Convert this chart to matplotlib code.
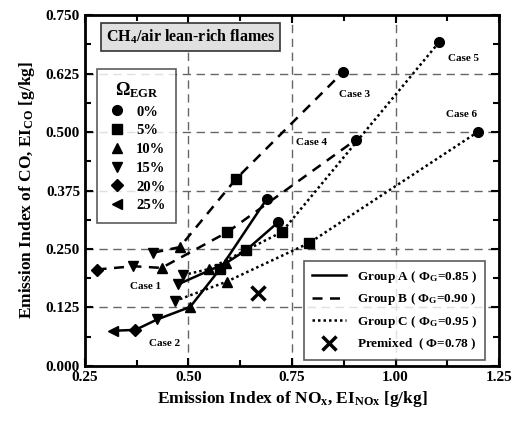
import numpy as np
import matplotlib.pyplot as plt
from matplotlib.lines import Line2D

plt.rcParams['font.family'] = 'Liberation Serif'
plt.rcParams['font.weight'] = 'bold'
plt.rcParams['axes.labelweight'] = 'bold'
plt.rcParams['mathtext.fontset'] = 'custom'
plt.rcParams['mathtext.rm'] = 'Liberation Serif:bold'
plt.rcParams['mathtext.it'] = 'Liberation Serif:bold'
plt.rcParams['mathtext.bf'] = 'Liberation Serif:bold'

# EGR levels and their markers
EGR_LEVELS = [0, 5, 10, 15, 20, 25]
EGR_MARKERS = {0: 'o', 5: 's', 10: '^', 15: 'v', 20: 'D', 25: '<'}

# Group A (solid)
case1_egr = [15, 10, 5, 0]
case1_x = [0.474, 0.591, 0.640, 0.717]
case1_y = [0.174, 0.220, 0.248, 0.3075]
case2_egr = [25, 20, 15, 10, 5, 0]
case2_x = [0.318, 0.372, 0.425, 0.504, 0.576, 0.689]
case2_y = [0.075, 0.077, 0.0995, 0.126, 0.207, 0.357]
# Group B (dashed)
case3_egr = [15, 10, 5, 0]
case3_x = [0.415, 0.479, 0.615, 0.874]
case3_y = [0.242, 0.254, 0.400, 0.629]
case4_egr = [20, 15, 10, 5, 0]
case4_x = [0.278, 0.367, 0.435, 0.594, 0.905]
case4_y = [0.206, 0.213, 0.2095, 0.286, 0.484]
# Group C (dotted)
case5_egr = [15, 10, 5, 0]
case5_x = [0.487, 0.549, 0.725, 1.106]
case5_y = [0.194, 0.207, 0.286, 0.693]
case6_egr = [15, 10, 5, 0]
case6_x = [0.467, 0.592, 0.792, 1.200]
case6_y = [0.1385, 0.180, 0.263, 0.501]

premixed_x = 0.669
premixed_y = 0.156

case_labels = ['Case 1', 'Case 2', 'Case 3', 'Case 4', 'Case 5', 'Case 6']
case_label_x = [0.397, 0.4415, 0.902, 0.798, 1.165, 1.160]
case_label_y = [0.169, 0.048, 0.581, 0.477, 0.658, 0.537]

DASHED = (0, (4, 3))
DOTTED = (0, (1, 1.2))
cases = [
    (case1_egr, case1_x, case1_y, '-'),
    (case2_egr, case2_x, case2_y, '-'),
    (case3_egr, case3_x, case3_y, DASHED),
    (case4_egr, case4_x, case4_y, DASHED),
    (case5_egr, case5_x, case5_y, DOTTED),
    (case6_egr, case6_x, case6_y, DOTTED),
]

fig = plt.figure(figsize=(5.15, 4.21), dpi=100)
ax = fig.add_axes([0.165, 0.131, 0.804, 0.833])

for egr, xs, ys, ls in cases:
    ax.plot(xs, ys, color='black', ls=ls, lw=1.8, zorder=3)
    for e, x, y in zip(egr, xs, ys):
        ax.plot(x, y, marker=EGR_MARKERS[e], color='black', ms=7 if e != 20 else 6,
                ls='none', zorder=4)

ax.plot(premixed_x, premixed_y, marker='x', color='black', ms=10, mew=2.5, ls='none', zorder=4)

for lab, x, y in zip(case_labels, case_label_x, case_label_y):
    ax.text(x, y, lab, fontsize=8, ha='center', va='center')

ax.set_xlim(0.25, 1.25)
ax.set_ylim(0.0, 0.75)
ax.set_xticks(np.arange(0.25, 1.26, 0.25))
ax.set_xticks(np.arange(0.375, 1.25, 0.25), minor=True)
ax.set_yticks(np.arange(0.0, 0.751, 0.125))
ax.set_yticks(np.arange(0.0625, 0.75, 0.125), minor=True)
ax.xaxis.set_major_formatter(plt.FormatStrFormatter('%.2f'))
ax.yaxis.set_major_formatter(plt.FormatStrFormatter('%.3f'))
ax.tick_params(which='both', direction='in', top=True, right=True, width=1.5, labelsize=11)
ax.tick_params(which='major', length=6)
ax.tick_params(which='minor', length=4)
for s in ax.spines.values():
    s.set_linewidth(2)
ax.grid(True, which='major', color='#666666', ls=(0, (6, 4)), lw=1.0)

ax.set_xlabel('Emission Index of NO$_x$, EI$_{NOx}$ [g/kg]', fontsize=12.5, labelpad=4)
ax.set_ylabel('Emission Index of CO, EI$_{CO}$ [g/kg]', fontsize=12.5, labelpad=6)

ax.text(0.3, 0.703, 'CH$_4$/air lean-rich flames', fontsize=11.5, ha='left', va='center',
        bbox=dict(boxstyle='square,pad=0.3', fc='#e0e0e0', ec='#333333', lw=1.2), zorder=6)

# EGR marker legend
egr_handles = [Line2D([], [], marker=EGR_MARKERS[e], color='black', ls='none', ms=7 if e != 20 else 6)
               for e in EGR_LEVELS]
egr_labels = [f'{e}%' for e in EGR_LEVELS]
leg1 = ax.legend(egr_handles, egr_labels, title=r'$\Omega_{EGR}$', loc='upper left',
                 bbox_to_anchor=(0.03, 0.846), borderaxespad=0, fontsize=10.5, title_fontsize=13,
                 frameon=True, fancybox=False, edgecolor='#333333', handletextpad=0.7,
                 labelspacing=0.38, borderpad=0.75, handlelength=1.2)
leg1.get_frame().set_linewidth(1.2)
ax.add_artist(leg1)

group_handles = [
    Line2D([], [], color='black', ls='-', lw=1.8),
    Line2D([], [], color='black', ls=DASHED, lw=1.8),
    Line2D([], [], color='black', ls=DOTTED, lw=1.8),
    Line2D([], [], color='black', marker='x', ms=10, mew=2.5, ls='none'),
]
group_labels = [
    'Group A ( $\\Phi_G$=0.85 )',
    'Group B ( $\\Phi_G$=0.90 )',
    'Group C ( $\\Phi_G$=0.95 )',
    'Premixed  ( $\\Phi$=0.78 )',
]
leg2 = ax.legend(group_handles, group_labels, loc='lower right', bbox_to_anchor=(0.966, 0.017),
                 borderaxespad=0, fontsize=9.5, frameon=True, fancybox=False, edgecolor='#333333',
                 handlelength=2.6, labelspacing=0.5, borderpad=0.6)
leg2.get_frame().set_linewidth(1.2)

fig.savefig('out.png', dpi=100)
